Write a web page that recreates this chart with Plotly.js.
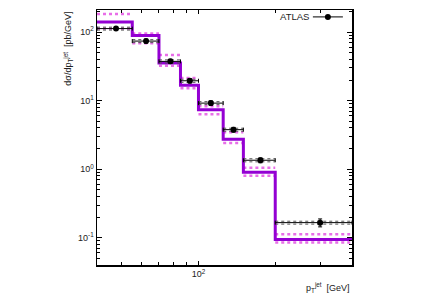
<!DOCTYPE html>
<html>
<head>
<meta charset="utf-8">
<script src="https://cdn.plot.ly/plotly-3.0.1.min.js"></script>
<style>html,body{margin:0;padding:0;background:#fff;}#chart{width:428px;height:300px;}</style>
</head>
<body>
<div id="chart"></div>
<script>
// Bin edges of jet pT [GeV]
const binEdges = [40, 55, 70, 85, 100, 125, 150, 200, 400];
// ATLAS data points
const dataX = [47.5, 62.3, 77.6, 92.5, 111.8, 137.2, 175, 300];
const dataY = [112.5, 73.9, 37.4, 19.5, 9.2, 3.77, 1.35, 0.166];
const dataErr = [7, 5, 2.6, 1.4, 0.7, 0.3, 0.11, 0.022];
const dataSysUp = [118, 77.6, 39.3, 20.5, 9.66, 3.96, 1.42, 0.174];
const dataSysDn = [107, 70.2, 35.5, 18.5, 8.74, 3.58, 1.28, 0.158];
// Theory prediction (central, upper, lower)
const theoryY = [140, 89.5, 35.3, 16.8, 7.39, 2.74, 0.904, 0.094];
const theoryUp = [183, 95, 46.2, 21.3, 8.3, 3.47, 1.045, 0.1125];
const theoryDn = [112.5, 69, 32.2, 15.1, 6.35, 2.40, 0.80, 0.085];
// Tick labels
const xTickVals = [100];
const xTickText = ['10<sup>2</sup>'];
const yTickVals = [0.1, 1, 10, 100];
const yTickText = ['10<sup>-1</sup>', '10<sup>0</sup>', '10<sup>1</sup>', '10<sup>2</sup>'];

function segments(vals) {
  const xs = [], ys = [];
  vals.forEach((v, i) => { xs.push(binEdges[i], binEdges[i + 1], null); ys.push(v, v, null); });
  return {x: xs, y: ys};
}
const stepY = theoryY.concat([theoryY[theoryY.length - 1]]);

const purple = '#9400d3';
const magenta = '#e86ee8';
const traces = [];
[theoryUp, theoryDn].forEach(arr => {
  const s = segments(arr);
  traces.push({x: s.x, y: s.y, mode: 'lines', line: {color: magenta, width: 2.5, dash: 'dot'}, showlegend: false, hoverinfo: 'skip'});
});
traces.push({x: binEdges, y: stepY, mode: 'lines', line: {color: purple, width: 3, shape: 'hv'}, showlegend: false, hoverinfo: 'skip'});
[dataSysUp, dataSysDn].forEach(arr => {
  const s = segments(arr);
  traces.push({x: s.x, y: s.y, mode: 'lines', line: {color: '#555', width: 1, dash: 'dot'}, showlegend: false, hoverinfo: 'skip'});
});
const dxPlus = dataX.map((x, i) => binEdges[i + 1] - x);
const dxMinus = dataX.map((x, i) => x - binEdges[i]);
traces.push({
  x: dataX, y: dataY, mode: 'markers', showlegend: false,
  marker: {color: '#000', size: 6},
  error_y: {type: 'data', array: dataErr, color: '#000', thickness: 1, width: 2},
  error_x: {type: 'data', symmetric: false, array: dxPlus, arrayminus: dxMinus, color: '#000', thickness: 1, width: 2}
});
// legend entry only (points lie outside the axis range)
traces.push({x: [1000, 1200], y: [1, 1], mode: 'lines+markers', name: ' ', showlegend: true,
  line: {color: '#333', width: 1.2}, marker: {color: '#000', size: 6}});

const fnt = {family: 'Liberation Sans, Arial, sans-serif', size: 9, color: '#222'};
const layout = {
  width: 428, height: 300,
  margin: {l: 97, r: 76, t: 10, b: 35, autoexpand: false},
  paper_bgcolor: '#fff', plot_bgcolor: '#fff',
  font: fnt,
  showlegend: true,
  legend: {x: 0.827, xanchor: 'left', y: 0.973, yanchor: 'middle', bgcolor: 'rgba(0,0,0,0)',
    font: fnt, itemwidth: 30, borderwidth: 0},
  xaxis: {
    type: 'log', range: [Math.log10(40), Math.log10(400)],
    tickvals: xTickVals, ticktext: xTickText, ticks: 'inside', ticklen: 4, tickcolor: '#000',
    minor: {dtick: 'D1', ticks: 'inside', ticklen: 3, tickcolor: '#000'},
    showline: true, linecolor: '#000', linewidth: 1.5, mirror: 'allticks',
    showgrid: false, zeroline: false, tickfont: fnt
  },
  yaxis: {
    type: 'log', range: [Math.log10(0.04), Math.log10(210)],
    tickvals: yTickVals, ticktext: yTickText, ticks: 'inside', ticklen: 5, tickcolor: '#000',
    minor: {dtick: 'D1', ticks: 'inside', ticklen: 3, tickcolor: '#000'},
    showline: true, linecolor: '#000', linewidth: 1.5, mirror: 'allticks',
    showgrid: false, zeroline: false, tickfont: fnt
  },
  annotations: [{
    xref: 'paper', yref: 'paper', x: 0.84, xanchor: 'right', y: 0.973, yanchor: 'middle',
    text: 'ATLAS', showarrow: false, font: {family: fnt.family, size: 9.5, color: '#222'}
  }, {
    xref: 'paper', yref: 'paper', x: 1, xanchor: 'right', y: -0.055, yanchor: 'top',
    text: 'p<sub>T</sub><sup>jet</sup>  [GeV]', showarrow: false, font: fnt
  }, {
    xref: 'paper', yref: 'paper', x: -0.115, xanchor: 'center', y: 1, yanchor: 'top',
    text: 'dσ/dp<sub>T</sub><sup>jet</sup>  [pb/GeV]', showarrow: false, font: fnt, textangle: -90
  }]
};
Plotly.newPlot('chart', traces, layout, {displayModeBar: false, staticPlot: true});
</script>
</body>
</html>
